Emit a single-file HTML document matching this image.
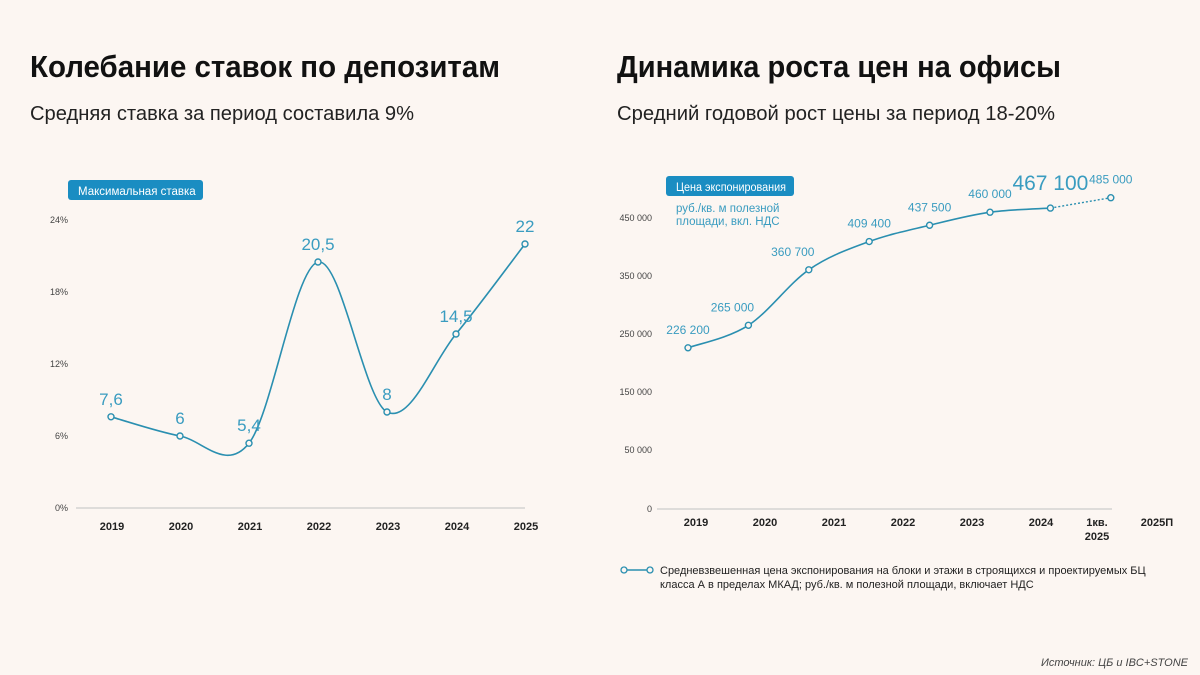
<!DOCTYPE html>
<html><head><meta charset="utf-8"><style>
html,body{margin:0;padding:0;background:#fcf6f2;}
svg{display:block;font-family:"Liberation Sans",sans-serif;}
</style></head><body>
<svg id="s" width="1200" height="675" viewBox="0 0 1200 675">
<rect width="1200" height="675" fill="#fcf6f2"/>
<text x="30" y="77" font-size="31" font-weight="bold" fill="#111" textLength="470" lengthAdjust="spacingAndGlyphs">Колебание ставок по депозитам</text>
<text x="30" y="120" font-size="20" fill="#222" textLength="384" lengthAdjust="spacingAndGlyphs">Средняя ставка за период составила 9%</text>
<text x="617" y="77" font-size="31" font-weight="bold" fill="#111" textLength="444" lengthAdjust="spacingAndGlyphs">Динамика роста цен на офисы</text>
<text x="617" y="120" font-size="20" fill="#222" textLength="438" lengthAdjust="spacingAndGlyphs">Средний годовой рост цены за период 18-20%</text>

<g>
<rect x="68" y="180" width="135" height="20" rx="3" fill="#1a8dc2"/>
<text x="78" y="195" font-size="11.5" fill="#fff">Максимальная ставка</text>
</g>
<g>
<rect x="666" y="176" width="128" height="20" rx="3" fill="#1a8dc2"/>
<text x="676" y="191" font-size="11.5" fill="#fff" textLength="110" lengthAdjust="spacingAndGlyphs">Цена экспонирования</text>
</g>
<text x="676" y="212" font-size="11.5" fill="#3a9cc0">руб./кв. м полезной</text>
<text x="676" y="225" font-size="11.5" fill="#3a9cc0">площади, вкл. НДС</text>

<g id="left"></g>
<g id="right"></g>

<g>
<line x1="624" y1="570" x2="650" y2="570" stroke="#2a8fb0" stroke-width="1.5"/>
<circle cx="624" cy="570" r="3" fill="#fcf6f2" stroke="#2a8fb0" stroke-width="1.3"/>
<circle cx="650" cy="570" r="3" fill="#fcf6f2" stroke="#2a8fb0" stroke-width="1.3"/>
<text x="660" y="574" font-size="11" fill="#222">Средневзвешенная цена экспонирования на блоки и этажи в строящихся и проектируемых БЦ</text>
<text x="660" y="588" font-size="11" fill="#222">класса А в пределах  МКАД; руб./кв. м полезной площади, включает НДС</text>
</g>
<text x="1188" y="666" font-size="11" font-style="italic" fill="#444" text-anchor="end">Источник: ЦБ и IBC+STONE</text>
</svg>
<script>
const leftCats = ["2019","2020","2021","2022","2023","2024","2025"];
const leftValues = [7.6, 6, 5.4, 20.5, 8, 14.5, 22];
const leftLabels = ["7,6","6","5,4","20,5","8","14,5","22"];
const leftTicks = [0, 6, 12, 18, 24];

const rightCats = ["2019","2020","2021","2022","2023","2024","1кв.|2025","2025П"];
const rightValues = [226200, 265000, 360700, 409400, 437500, 460000, 467100, 485000];
const rightLabels = ["226 200","265 000","360 700","409 400","437 500","460 000","467 100","485 000"];
const rightTicks = [50000, 150000, 250000, 350000, 450000];

const NS = "http://www.w3.org/2000/svg";
const C = "#2a8fb0", LC = "#3a9cc0";
function mk(parent, tag, attrs, txt){
  const e = document.createElementNS(NS, tag);
  for (const k in attrs) e.setAttribute(k, attrs[k]);
  if (txt !== undefined) e.textContent = txt;
  parent.appendChild(e); return e;
}
function spline(p){
  let d = "M" + p[0][0] + "," + p[0][1];
  for (let i = 0; i < p.length - 1; i++){
    const p0 = p[i-1] || p[i], p1 = p[i], p2 = p[i+1], p3 = p[i+2] || p[i+1];
    const c1 = [p1[0] + (p2[0]-p0[0])/6, p1[1] + (p2[1]-p0[1])/6];
    const c2 = [p2[0] - (p3[0]-p1[0])/6, p2[1] - (p3[1]-p1[1])/6];
    d += " C" + c1 + " " + c2 + " " + p2;
  }
  return d;
}

// LEFT
(function(){
  const g = document.getElementById("left");
  const x = i => 111 + i * 69;
  const y = v => 508 - v * 12;
  let e = mk(g, "line", {x1:76, x2:525, y1:508, y2:508, stroke:"#ccc", "stroke-width":1.2});
  
  
  leftTicks.forEach(t => {
    const el = mk(g, "text", {x:68, y:y(t)+3, "font-size":9, fill:"#444", "text-anchor":"end"}, t + "%");
    
    
  });
  leftCats.forEach((c, i) => {
    const el = mk(g, "text", {x:x(i)+1, y:530, "font-size":11, "font-weight":"bold", fill:"#222", "text-anchor":"middle"}, c);
    
    
  });
  const pts = leftValues.map((v, i) => [x(i), y(v)]);
  const path = mk(g, "path", {d:spline(pts), fill:"none", stroke:C, "stroke-width":1.6});
  
  
  pts.forEach((p, i) => {
    const c = mk(g, "circle", {cx:p[0], cy:p[1], r:3, fill:"#fcf6f2", stroke:C, "stroke-width":1.4});
    
    
    const t = mk(g, "text", {x:p[0], y:p[1]-12, "font-size":17, fill:LC, "text-anchor":"middle"}, leftLabels[i]);
    
    
  });
})();

// RIGHT
(function(){
  const g = document.getElementById("right");
  const x = i => 688 + i * 60.4;
  const y = v => 450 - (v - 50000) * 0.00058;
  const lx = i => 696 + i * 69 - (i >= 6 ? 13 + (i - 6) * 9 : 0);
  let e = mk(g, "line", {x1:657, x2:1112, y1:509, y2:509, stroke:"#ccc", "stroke-width":1.2});
  
  
  let z = mk(g, "text", {x:652, y:512, "font-size":9, fill:"#444", "text-anchor":"end"}, "0");
  
  
  rightTicks.forEach(t => {
    const el = mk(g, "text", {x:652, y:y(t)+3, "font-size":9, fill:"#444", "text-anchor":"end"}, t.toLocaleString("ru-RU").replace(/\s/g," "));
    
    
  });
  rightCats.forEach((c, i) => {
    c.split("|").forEach((ln, k) => {
      const el = mk(g, "text", {x:lx(i), y:526 + k*14, "font-size":11, "font-weight":"bold", fill:"#222", "text-anchor":"middle"}, ln);
      
      
    });
  });
  const pts = rightValues.map((v, i) => [x(i), y(v)]);
  const solid = pts.slice(0, 7);
  const path = mk(g, "path", {d:spline(solid), fill:"none", stroke:C, "stroke-width":1.6});
  
  
  const dot = mk(g, "line", {x1:pts[6][0], y1:pts[6][1], x2:pts[7][0], y2:pts[7][1], stroke:C, "stroke-width":1.4, "stroke-dasharray":"2,2"});
  
  
  pts.forEach((p, i) => {
    const c = mk(g, "circle", {cx:p[0], cy:p[1], r:3, fill:"#fcf6f2", stroke:C, "stroke-width":1.4});
    
    
    const big = i === 6;
    const dx = (i === 1 || i === 2) ? -16 : 0;
    const t = mk(g, "text", {x:p[0] + dx, y:p[1] - (big ? 18 : 14), "font-size": big ? 21 : 12, fill:LC, "text-anchor":"middle"}, rightLabels[i]);
    
    
  });
})();
</script>
</body></html>
